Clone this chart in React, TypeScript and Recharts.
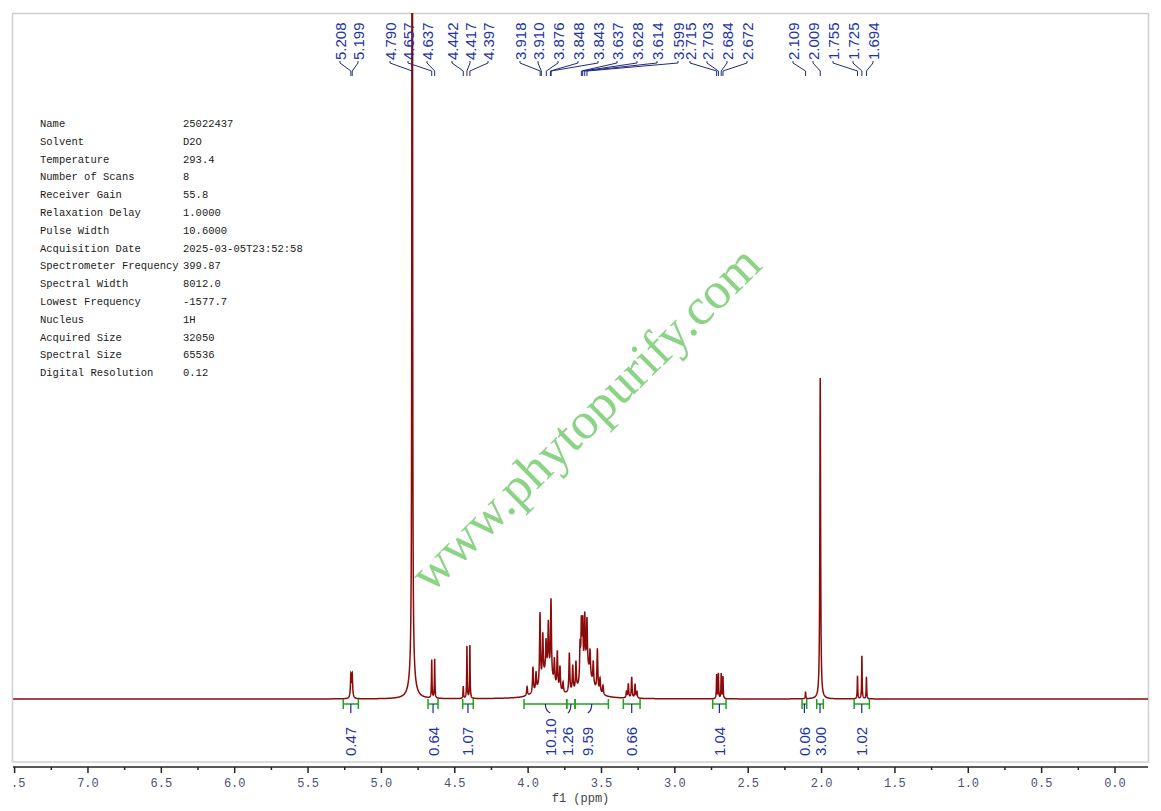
import React from "react";
import { LineChart, Line, XAxis, YAxis, ReferenceLine } from "recharts";

// resolved lines of the 1H spectrum: shift (ppm), height above baseline, half width (ppm)
const LINE_PPM = [
  5.208, 5.199, 4.79, 4.657, 4.637, 4.442, 4.417, 4.397,
  4.007, 3.967, 3.946, 3.919, 3.9, 3.878, 3.862, 3.844, 3.821, 3.801, 3.783, 3.762,
  3.719, 3.696, 3.674, 3.646, 3.637, 3.628, 3.614, 3.599, 3.578, 3.556, 3.528, 3.51, 3.49,
  3.33, 3.317, 3.294, 3.271, 3.258,
  2.715, 2.703, 2.684, 2.672, 2.109, 2.009, 1.755, 1.725, 1.694,
];
const LINE_HEIGHT = [
  23, 23, 2600, 38, 39, 12, 52, 53,
  9, 26, 18, 72, 44, 30, 48, 77, 25, 37, 24, 10,
  40, 26, 28, 36, 54, 51, 54, 48, 25, 23, 42, 14, 9,
  6, 14, 21, 14, 6,
  24, 25, 25, 22, 7, 321, 23, 43, 22,
];
const LINE_WIDTH = [
  0.0035, 0.0035, 0.0014, 0.002, 0.002, 0.002, 0.002, 0.002,
  0.0035, 0.0035, 0.0035, 0.0035, 0.0035, 0.0035, 0.0035, 0.0035, 0.0035, 0.0035, 0.0035, 0.0035,
  0.0035, 0.0035, 0.0035, 0.0035, 0.0035, 0.0035, 0.0035, 0.0035, 0.0035, 0.0035, 0.0035, 0.0035, 0.0035,
  0.003, 0.003, 0.003, 0.003, 0.003,
  0.002, 0.002, 0.002, 0.002, 0.002, 0.003, 0.002, 0.002, 0.002,
];

// broad unresolved envelopes (HDO foot, sugar multiplets)
const BROAD_PPM = [4.79, 3.87, 3.6];
const BROAD_HEIGHT = [32, 26, 28];
const BROAD_WIDTH = [0.018, 0.045, 0.04];

// picked peaks printed across the top
const PEAK_LABELS = [
  5.208, 5.199, 4.79, 4.657, 4.637, 4.442, 4.417, 4.397,
  3.918, 3.91, 3.876, 3.848, 3.843, 3.637, 3.628, 3.614, 3.599,
  2.715, 2.703, 2.684, 2.672, 2.109, 2.009, 1.755, 1.725, 1.694,
];
// x of each label column (px)
const LABEL_SLOT_X = [
  340, 358, 390, 408, 427, 452, 470, 488,
  520, 538, 558, 578, 598, 617, 637, 657, 678,
  690, 707, 727, 747, 793, 813, 833, 853, 873,
];

// integral regions
const INTEGRAL_FROM = [5.26, 4.682, 4.446, 4.028, 3.737, 3.68, 3.351, 2.742, 2.133, 2.033, 1.778];
const INTEGRAL_TO = [5.157, 4.614, 4.374, 3.737, 3.68, 3.453, 3.237, 2.651, 2.101, 1.988, 1.674];
const INTEGRAL_VALUE = [0.47, 0.64, 1.07, 10.1, 1.26, 9.59, 0.66, 1.04, 0.06, 3.0, 1.02];
const INTEGRAL_LABEL_SHIFT = [0, 0, 0, 5, -3, -4, 0, 0, 0, 0, 0];

const PPM_TICKS = [
  7.5, 7.25, 7.0, 6.75, 6.5, 6.25, 6.0, 5.75, 5.5, 5.25, 5.0, 4.75, 4.5, 4.25, 4.0,
  3.75, 3.5, 3.25, 3.0, 2.75, 2.5, 2.25, 2.0, 1.75, 1.5, 1.25, 1.0, 0.75, 0.5, 0.25, 0.0,
];

const PARAM_NAMES = [
  "Name", "Solvent", "Temperature", "Number of Scans", "Receiver Gain", "Relaxation Delay",
  "Pulse Width", "Acquisition Date", "Spectrometer Frequency", "Spectral Width",
  "Lowest Frequency", "Nucleus", "Acquired Size", "Spectral Size", "Digital Resolution",
];
const PARAM_VALUES = [
  "25022437", "D2O", "293.4", "8", "55.8", "1.0000", "10.6000", "2025-03-05T23:52:58",
  "399.87", "8012.0", "-1577.7", "1H", "32050", "65536", "0.12",
];

const X_MIN = -0.225;
const X_MAX = 7.511;
const Y_MIN = -68;
const Y_MAX = 686;

const SPECTRUM_COLOR = "#8b0a0a";
const LABEL_COLOR = "#2233aa";
const CONNECTOR_COLOR = "#1f2a80";
const INTEGRAL_COLOR = "#22a022";

function intensity(ppm: number) {
  let s = 0;
  for (let i = 0; i < LINE_PPM.length; i++) {
    const d = (ppm - LINE_PPM[i]) / LINE_WIDTH[i];
    s += LINE_HEIGHT[i] / (1 + d * d);
  }
  for (let i = 0; i < BROAD_PPM.length; i++) {
    const d = (ppm - BROAD_PPM[i]) / BROAD_WIDTH[i];
    s += BROAD_HEIGHT[i] / (1 + d * d);
  }
  return s;
}

function buildSpectrum() {
  const xs: number[] = [...LINE_PPM];
  for (let p = X_MIN; p <= X_MAX; ) {
    xs.push(p);
    p += p > 1.55 && p < 5.35 ? 0.0005 : 0.01;
  }
  xs.sort((a, b) => a - b);
  return xs.map((ppm) => ({ ppm, y: intensity(ppm) }));
}

const spectrum = buildSpectrum();

function PpmTick(props: any) {
  const { x, y, payload, index } = props;
  const v: number = payload.value;
  const major = Math.abs(v * 2 - Math.round(v * 2)) < 1e-6;
  const clipId = `tick-clip-${index}`;
  return (
    <g>
      <defs>
        <clipPath id={clipId}>
          <rect x={12} y={0} width={1140} height={811} />
        </clipPath>
      </defs>
      <line x1={x} x2={x} y1={y} y2={y + (major ? 6 : 3)} stroke="#222" strokeWidth={1.5} />
      {major && (
        <text
          x={x}
          y={y + 20}
          textAnchor="middle"
          fontFamily="Liberation Mono, monospace"
          fontSize={12}
          fill="#4a5275"
          clipPath={`url(#${clipId})`}
        >
          {v.toFixed(1)}
        </text>
      )}
    </g>
  );
}

function peakLabelShape(i: number) {
  return (p: any) => {
    const px = p.x1;
    const sx = LABEL_SLOT_X[i];
    return (
      <g>
        <text
          transform={`translate(${sx},60) rotate(-90)`}
          textAnchor="start"
          dominantBaseline="central"
          fontFamily="Liberation Sans, Arial, sans-serif"
          fontSize={15}
          fill={LABEL_COLOR}
        >
          {PEAK_LABELS[i].toFixed(3)}
        </text>
        <polyline
          points={`${sx},61 ${sx},63 ${px},71 ${px},76`}
          fill="none"
          stroke={CONNECTOR_COLOR}
          strokeWidth={1}
        />
      </g>
    );
  };
}

function integralShape(i: number) {
  return (p: any) => {
    const left = Math.min(p.x1, p.x2);
    const right = Math.max(p.x1, p.x2);
    const y = p.y1;
    const cx = (left + right) / 2;
    const lx = cx + INTEGRAL_LABEL_SHIFT[i];
    return (
      <g>
        <line x1={left} x2={right} y1={y} y2={y} stroke={INTEGRAL_COLOR} strokeWidth={1.5} />
        <line x1={left} x2={left} y1={y - 5} y2={y + 5} stroke={INTEGRAL_COLOR} strokeWidth={1.5} />
        <line x1={right} x2={right} y1={y - 5} y2={y + 5} stroke={INTEGRAL_COLOR} strokeWidth={1.5} />
        <path
          d={`M${cx},${y} Q${cx},${y + 7} ${lx},${y + 9}`}
          fill="none"
          stroke={CONNECTOR_COLOR}
          strokeWidth={1.2}
        />
        <text
          transform={`translate(${lx},756) rotate(-90)`}
          textAnchor="start"
          dominantBaseline="central"
          fontFamily="Liberation Sans, Arial, sans-serif"
          fontSize={15}
          fill={LABEL_COLOR}
        >
          {INTEGRAL_VALUE[i].toFixed(2)}
        </text>
      </g>
    );
  };
}

export default function App() {
  return (
    <div style={{ position: "absolute", left: 0, top: 0, width: 1161, height: 811, background: "#fff" }}>
      <svg width={1161} height={811} style={{ position: "absolute", left: 0, top: 0 }}>
        <rect x={12.5} y={13.5} width={1136} height={748.5} fill="none" stroke="#cfcfcf" strokeWidth={1.5} />
      </svg>
      <div style={{ position: "absolute", left: 0, top: 0 }}>
        <LineChart width={1161} height={811} data={spectrum} margin={{ top: 13, right: 13, bottom: 0, left: 13 }}>
          <XAxis
            dataKey="ppm"
            type="number"
            domain={[X_MIN, X_MAX]}
            reversed
            allowDataOverflow
            ticks={PPM_TICKS}
            interval={0}
            tick={<PpmTick />}
            tickLine={false}
            tickSize={0}
            tickMargin={0}
            height={44}
            axisLine={{ stroke: "#222", strokeWidth: 1.5 }}
            label={(lp: any) => {
              const vb = lp.viewBox || {};
              return (
                <text
                  x={vb.x + vb.width / 2}
                  y={vb.y + 35}
                  textAnchor="middle"
                  fontFamily="Liberation Mono, monospace"
                  fontSize={12}
                  fill="#444"
                >
                  f1 (ppm)
                </text>
              );
            }}
          />
          <YAxis type="number" domain={[Y_MIN, Y_MAX]} hide allowDataOverflow />
          <Line
            dataKey="y"
            type="linear"
            dot={false}
            stroke={SPECTRUM_COLOR}
            strokeWidth={1.5}
            isAnimationActive={false}
          />
          {PEAK_LABELS.map((ppm, i) => (
            <ReferenceLine key={`pk-${i}`} x={ppm} shape={peakLabelShape(i)} />
          ))}
          {INTEGRAL_VALUE.map((v, i) => (
            <ReferenceLine
              key={`int-${i}`}
              segment={[
                { x: INTEGRAL_FROM[i], y: -5 },
                { x: INTEGRAL_TO[i], y: -5 },
              ]}
              shape={integralShape(i)}
            />
          ))}
        </LineChart>
      </div>
      <svg width={1161} height={811} style={{ position: "absolute", left: 0, top: 0, pointerEvents: "none" }}>
        {PARAM_NAMES.map((name, i) => (
          <g key={name} fontFamily="Liberation Mono, monospace" fontSize={10.5} fill="#1a1a1a">
            <text x={40} y={127 + i * 17.8}>{name}</text>
            <text x={183} y={127 + i * 17.8}>{PARAM_VALUES[i]}</text>
          </g>
        ))}
        <text
          transform="translate(585,418) rotate(-44.5)"
          textAnchor="middle"
          dominantBaseline="central"
          fontFamily="Liberation Serif, Times New Roman, serif"
          fontSize={52}
          fill="#7fcf78"
          opacity={0.9}
        >
          www.phytopurify.com
        </text>
      </svg>
    </div>
  );
}
